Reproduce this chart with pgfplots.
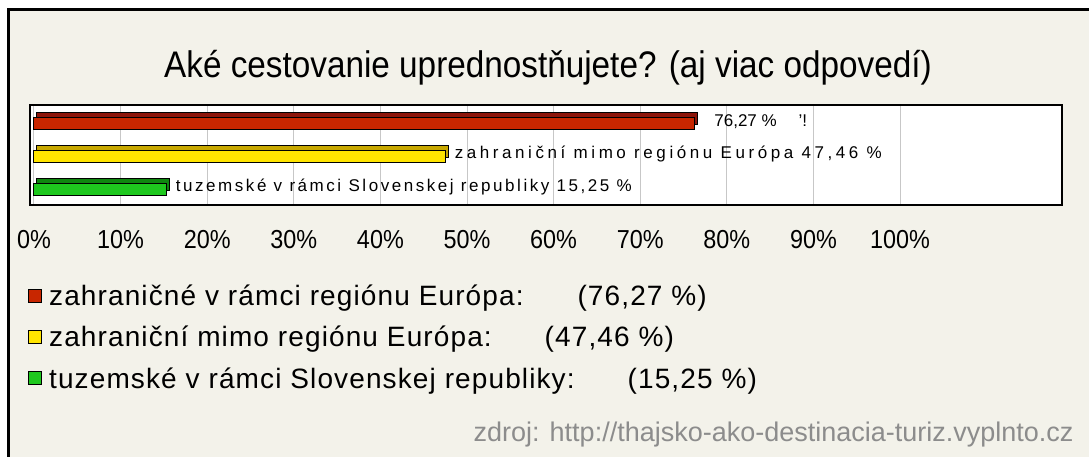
\documentclass[border=0pt]{standalone}
\usepackage{fontspec}
\setmainfont{Liberation Sans}
\newfontfamily\titlefont[FakeStretch=0.9]{Liberation Sans}
\newfontfamily\tickfont[FakeStretch=0.9]{Liberation Sans}
\usepackage{pgfplots}
\pgfplotsset{compat=1.18}
\definecolor{bg}{RGB}{243,242,234}
\definecolor{redF}{RGB}{200,38,0}
\definecolor{redT}{RGB}{140,20,10}
\definecolor{yelF}{RGB}{255,228,0}
\definecolor{yelT}{RGB}{200,168,0}
\definecolor{grnF}{RGB}{30,200,30}
\definecolor{grnT}{RGB}{15,135,15}
\definecolor{src}{RGB}{140,140,140}

\pgfplotsset{
  bar3d/.style n args={2}{
    xbar, bar shift=0pt, bar width=12pt, forget plot,
    fill=#1, draw=black, line width=1pt,
    preaction={fill=#2, draw=black, line width=1pt,
      transform canvas={shift={(3pt,5pt)}}},
    nodes near coords={\pgfplotspointmeta},
    point meta=explicit symbolic,
  },
}

\begin{document}
\begin{tikzpicture}[x=1pt,y=1pt]
\useasboundingbox (0,0) rectangle (1089,-457);
\fill[bg] (8,-10) rectangle (1089,-457);
\draw[black, line width=3pt] (8,-457) -- (8,-10) -- (1089,-10);
\node[font=\titlefont\fontsize{37}{42}\selectfont] at (548,-68) {Aké cestovanie uprednostňujete? (aj viac odpovedí)};
\node[font=\fontsize{27}{30}\selectfont, text=src, anchor=east] at (1077,-435) {zdroj: http://thajsko-ako-destinacia-turiz.vyplnto.cz};

\begin{axis}[
  at={(30pt,-105pt)}, anchor=north west,
  scale only axis, width=1032pt, height=100pt,
  xmin=-0.46, xmax=118.7, ymin=0.52, ymax=3.55,
  axis background/.style={fill=white},
  axis line style={line width=1.5pt},
  xtick={0,10,...,100}, ytick=\empty,
  major tick length=0pt,
  xmajorgrids, grid style={black!22, line width=1pt},
  xticklabel={\pgfmathprintnumber{\tick}\%},
  /pgf/number format/assume math mode=true,
  xticklabel style={anchor=center, yshift=-35pt, font=\tickfont\fontsize{26}{28}\selectfont},
  every node near coord/.append style={anchor=west, font=\fontsize{17}{19}\selectfont, xshift=6pt, yshift=2pt},
  legend image code/.code={\draw[#1, draw=black, line width=1pt] (0pt,-6.5pt) rectangle (13pt,6.5pt);},
  legend style={at={(axis description cs:-0.002,-0.78)}, anchor=north west,
    draw=none, fill=none, inner sep=0pt, row sep=15pt,
    font=\fontsize{28}{32}\selectfont\addfontfeature{LetterSpace=4}, cells={anchor=west},
    /tikz/every odd column/.append style={column sep=5pt}},
]
\addplot[bar3d={redF}{redT}, every node near coord/.append style={xshift=10pt}]
  coordinates {(76.27,3) [76,27 \%\hspace{22pt}'!]};
\addplot[bar3d={yelF}{yelT}, every node near coord/.append style={font=\fontsize{17}{19}\selectfont\addfontfeature{LetterSpace=21}}]
  coordinates {(47.46,2) [zahraniční mimo regiónu Európa 47,46 \%]};
\addplot[bar3d={grnF}{grnT}, every node near coord/.append style={font=\fontsize{17}{19}\selectfont\addfontfeature{LetterSpace=15}}]
  coordinates {(15.25,1) [tuzemské v rámci Slovenskej republiky 15,25 \%]};

\addlegendimage{fill=redF}
\addlegendentry{zahraničné v rámci regiónu Európa:\hspace{54pt}(76,27 \%)}
\addlegendimage{fill=yelF}
\addlegendentry{zahraniční mimo regiónu Európa:\hspace{53pt}(47,46 \%)}
\addlegendimage{fill=grnF}
\addlegendentry{tuzemské v rámci Slovenskej republiky:\hspace{53pt}(15,25 \%)}
\end{axis}
\end{tikzpicture}
\end{document}
